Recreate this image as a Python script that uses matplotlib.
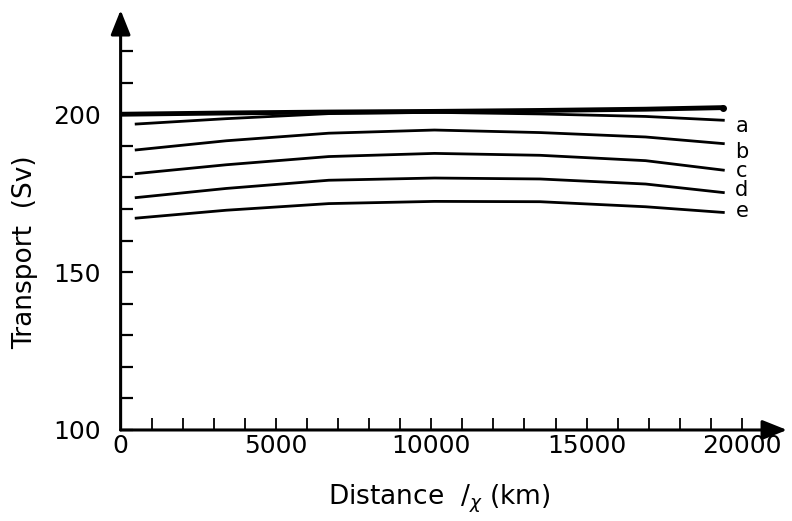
import numpy as np
import matplotlib.pyplot as plt

plt.rcParams.update({'font.size': 18, 'font.family': 'DejaVu Sans'})

# distance along the section (km)
dist = [500, 3400, 6700, 10100, 13500, 16900, 19400]
dist_ref = [0, 3400, 6700, 10100, 13500, 16900, 19400]

# transport (Sv)
ref_line = [200.0, 200.4, 200.7, 200.9, 201.2, 201.6, 202.1]
line_a = [196.9, 198.6, 200.2, 200.6, 200.1, 199.3, 198.1]
line_b = [188.7, 191.6, 194.0, 195.0, 194.2, 192.8, 190.7]
line_c = [181.2, 184.0, 186.6, 187.6, 187.0, 185.3, 182.3]
line_d = [173.6, 176.5, 179.1, 179.8, 179.5, 177.9, 175.2]
line_e = [167.1, 169.6, 171.7, 172.4, 172.3, 170.7, 168.9]

curves = [line_a, line_b, line_c, line_d, line_e]
names = ['a', 'b', 'c', 'd', 'e']
name_y = [196.2, 188.1, 181.9, 176.0, 169.4]

fig = plt.figure(figsize=(7.92, 5.21), dpi=100)
ax = fig.add_axes([0.1523, 0.1747, 0.8414, 0.806])

ax.plot(dist_ref, ref_line, color='black', lw=3.5, solid_capstyle='butt')
ax.plot(dist_ref[-1], ref_line[-1], 'o', color='black', ms=4)
for c in curves:
    ax.plot(dist, c, color='black', lw=2)

for n, yy in zip(names, name_y):
    ax.text(20000, yy, n, ha='center', va='center', fontsize=15)

ax.set_xlim(0, 21450)
ax.set_ylim(100, 233)

for s in ax.spines.values():
    s.set_visible(False)

arrow = dict(arrowstyle='-|>,head_length=1.0,head_width=0.4', color='black',
             lw=2.2, mutation_scale=15, shrinkA=0, shrinkB=0)
ax.annotate('', xy=(1, 0), xytext=(0, 0), xycoords='axes fraction', arrowprops=arrow)
ax.annotate('', xy=(0, 1), xytext=(0, 0), xycoords='axes fraction', arrowprops=arrow)

xt = np.arange(0, 20001, 1000)
ax.set_xticks(xt)
ax.set_xticklabels([str(v) if v % 5000 == 0 else '' for v in xt])
yt = np.arange(100, 221, 10)
ax.set_yticks(yt)
ax.set_yticklabels([str(v) if v % 50 == 0 else '' for v in yt])

ax.tick_params(axis='x', direction='in', length=8.5, width=1.3, pad=3)
ax.tick_params(axis='y', direction='in', length=8.5, width=1.6, pad=14)

ax.set_xlabel(r'Distance  $/_{\chi}$ (km)', fontsize=19)
ax.set_ylabel('Transport  (Sv)', fontsize=19)
ax.xaxis.set_label_coords(0.478, -0.126)
ax.yaxis.set_label_coords(-0.124, 0.424)

plt.savefig('out.png', dpi=100)
